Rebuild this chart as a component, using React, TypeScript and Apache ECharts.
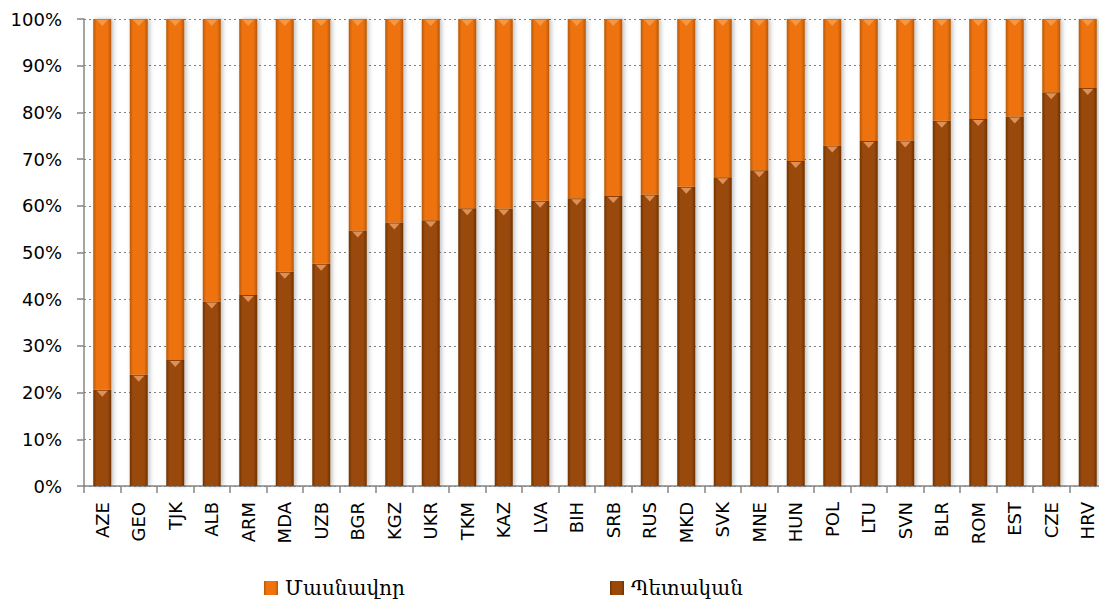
import React, { useEffect, useRef } from "react";
import * as echarts from "echarts";

const categories = ["AZE", "GEO", "TJK", "ALB", "ARM", "MDA", "UZB", "BGR", "KGZ", "UKR", "TKM", "KAZ", "LVA", "BIH", "SRB", "RUS", "MKD", "SVK", "MNE", "HUN", "POL", "LTU", "SVN", "BLR", "ROM", "EST", "CZE", "HRV"];
const stateShare = [20.6, 23.8, 27.0, 39.5, 40.9, 45.9, 47.6, 54.7, 56.4, 56.9, 59.5, 59.4, 61.1, 61.6, 62.1, 62.4, 64.1, 66.1, 67.6, 69.6, 72.9, 73.9, 74.0, 78.2, 78.6, 79.1, 84.3, 85.2];
const privateShare = [79.4, 76.2, 73.0, 60.5, 59.1, 54.1, 52.4, 45.3, 43.6, 43.1, 40.5, 40.6, 38.9, 38.4, 37.9, 37.6, 35.9, 33.9, 32.4, 30.4, 27.1, 26.1, 26.0, 21.8, 21.4, 20.9, 15.7, 14.8];
const seriesNames = ["Մասնավոր", "Պետական"];
const yTicks = [0, 10, 20, 30, 40, 50, 60, 70, 80, 90, 100];

function grad(edge: string, mid: string) {
  return new echarts.graphic.LinearGradient(0, 0, 1, 0, [
    { offset: 0, color: edge },
    { offset: 0.18, color: mid },
    { offset: 0.8, color: mid },
    { offset: 1, color: edge },
  ]);
}

export default function App() {
  const ref = useRef<HTMLDivElement>(null);
  useEffect(() => {
    if (!ref.current) return;
    const chart = echarts.init(ref.current, null, { renderer: "svg" });
    const totals = stateShare.map((s, i) => s + privateShare[i]);
    const legendText = { fontFamily: "DejaVu Serif", fontSize: 20, color: "#000", padding: [0, 0, 0, 2], lineHeight: 20 };
    const option: any = {
      animation: false,
      backgroundColor: "#ffffff",
      grid: { left: 84, right: 0, top: 19, bottom: 118, containLabel: false },
      legend: [
        {
          left: 264,
          top: 578,
          padding: 0,
          data: [seriesNames[0]],
          itemWidth: 14,
          itemHeight: 14,
          icon: "rect",
          textStyle: legendText,
        },
        {
          left: 610,
          top: 578,
          padding: 0,
          data: [seriesNames[1]],
          itemWidth: 14,
          itemHeight: 14,
          icon: "rect",
          textStyle: legendText,
        },
      ],
      xAxis: {
        type: "category",
        data: categories,
        boundaryGap: true,
        axisLine: { show: true, lineStyle: { color: "#868686", width: 1.5 } },
        axisTick: { show: true, length: 7, alignWithLabel: false, lineStyle: { color: "#868686", width: 1.5 } },
        axisLabel: {
          rotate: 90,
          interval: 0,
          margin: 16,
          fontFamily: "DejaVu Sans",
          fontSize: 18,
          color: "#000",
        },
      },
      yAxis: {
        type: "value",
        min: yTicks[0],
        max: yTicks[yTicks.length - 1],
        interval: 10,
        axisLine: { show: true, lineStyle: { color: "#868686", width: 1.5 } },
        axisTick: { show: true, length: 7, lineStyle: { color: "#868686", width: 1.5 } },
        splitLine: { show: true, lineStyle: { color: "#7f7f7f", type: [2, 3], width: 1.2 } },
        axisLabel: {
          margin: 22,
          formatter: "{value}%",
          fontFamily: "DejaVu Sans",
          fontSize: 18,
          color: "#000",
        },
      },
      series: [
        {
          name: seriesNames[1],
          type: "bar",
          stack: "total",
          barWidth: 18,
          data: stateShare,
          itemStyle: {
            color: grad("#6e3204", "#9a4908"),
            shadowColor: "rgba(0,0,0,0.25)",
            shadowBlur: 4,
            shadowOffsetX: 2,
          },
          z: 2,
        },
        {
          name: seriesNames[0],
          type: "bar",
          stack: "total",
          barWidth: 18,
          data: privateShare,
          itemStyle: {
            color: grad("#b65806", "#ee720f"),
            shadowColor: "rgba(0,0,0,0.25)",
            shadowBlur: 4,
            shadowOffsetX: 2,
          },
          z: 2,
        },
        {
          name: "stateTop",
          type: "scatter",
          data: stateShare,
          symbol: "triangle",
          symbolRotate: 180,
          symbolSize: [11, 6],
          symbolOffset: [0, 4],
          itemStyle: { color: "#f2a267" },
          silent: true,
          z: 3,
        },
        {
          name: "privateTop",
          type: "scatter",
          data: totals,
          symbol: "triangle",
          symbolRotate: 180,
          symbolSize: [11, 6],
          symbolOffset: [0, 4],
          itemStyle: { color: "#f8a04f" },
          silent: true,
          z: 3,
        },
      ],
    };
    chart.setOption(option);
    return () => chart.dispose();
  }, []);
  return (
    <div style={{ position: "fixed", left: 0, top: 0, width: 1099, height: 604, overflow: "hidden", background: "#fff" }}>
      <div ref={ref} style={{ width: 1106, height: 604 }} />
    </div>
  );
}
